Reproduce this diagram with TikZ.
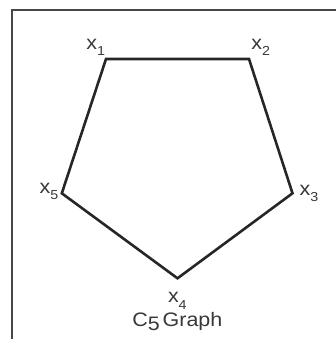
\documentclass[tikz,border=0pt]{standalone}
\usepackage{fontspec}
\setmainfont[FakeStretch=1.1]{Liberation Sans}
\newcommand\sbx[1]{\raisebox{-6.5pt}{\fontsize{13}{13}\selectfont #1}}
\begin{document}
\begin{tikzpicture}[x=1pt,y=-1pt]
\tikzset{
  edge/.style={line width=2.6pt, color=black!85, line join=miter},
  frame/.style={line width=2.2pt, color=black!72},
  lab/.style={inner sep=0pt, outer sep=0pt, anchor=base west, font=\fontsize{19.5}{20}\selectfont, text=black!78}
}
\useasboundingbox (0,0) rectangle (336,339);
\coordinate (fa) at (11.7,339);
\coordinate (fb) at (11.7,10);
\coordinate (fc) at (336,10);
\draw[frame] (fa) -- (fb) -- (fc);
\coordinate (v1) at (106,59);
\coordinate (v2) at (249,59);
\coordinate (v3) at (292.5,193.3);
\coordinate (v4) at (177.5,278.3);
\coordinate (v5) at (61.8,193.3);
\draw[edge] (v1) -- (v2) -- (v3) -- (v4) -- (v5) -- cycle;
\node[lab] (l1) at (86.3,49.3) {x\sbx{1}};
\node[lab] (l2) at (251.3,49.3) {x\sbx{2}};
\node[lab] (l3) at (299.6,195) {x\sbx{3}};
\node[lab] (l4) at (168,302.7) {x\sbx{4}};
\node[lab] (l5) at (39.6,193.3) {x\sbx{5}};
\node[lab] (cap) at (132.3,326.7) {C\raisebox{-3.3pt}{5}\kern3pt Graph};
\end{tikzpicture}
\end{document}
